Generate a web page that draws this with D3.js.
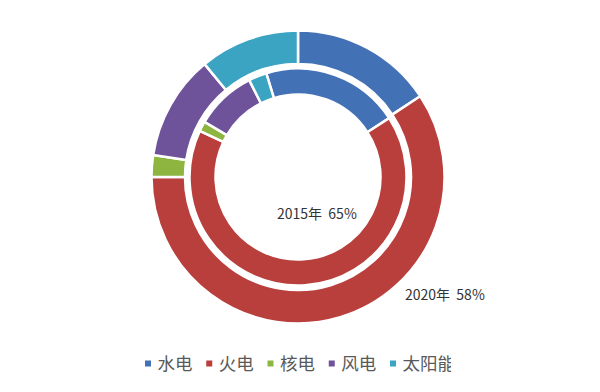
<!DOCTYPE html>
<html>
<head>
<meta charset="utf-8">
<script src="https://cdn.jsdelivr.net/npm/d3@7"></script>
<style>
  html, body { margin: 0; padding: 0; background: #fff; }
  svg { display: block; }
  text { font-family: "Noto Sans CJK SC", "Noto Sans", sans-serif; white-space: pre; }
</style>
</head>
<body>
<svg id="chart" width="600" height="392"></svg>
<script>
const categories = ["水电", "火电", "核电", "风电", "太阳能"];
const values2020 = [15.7, 59.3, 2.4, 11.6, 11.0];
const values2015 = [20.6, 66.1, 1.5, 9.1, 2.7];
const colors = ["#4371B6", "#B93F3D", "#8DB53F", "#6E539B", "#3AA4C2"];
const ringLabels = ["2015年  65%", "2020年  58%"];

const svg = d3.select("#chart");
const cx = 298, cy = 177;
const g = svg.append("g").attr("transform", `translate(${cx},${cy})`);

const deg = Math.PI / 180;
const innerStart = -17 * deg;

const pieOuter = d3.pie().sort(null).value(d => d.v).startAngle(0).endAngle(2 * Math.PI);
const pieInner = d3.pie().sort(null).value(d => d.v).startAngle(innerStart).endAngle(innerStart + 2 * Math.PI);

const outerData = categories.map((c, i) => ({ c, v: values2020[i], i }));
const innerData = categories.map((c, i) => ({ c, v: values2015[i], i }));

const arcOuter = d3.arc().innerRadius(113).outerRadius(146.5);
const arcInner = d3.arc().innerRadius(82.5).outerRadius(108.5);

g.selectAll("path.outer").data(pieOuter(outerData)).join("path")
  .attr("class", "outer")
  .attr("d", arcOuter)
  .attr("fill", d => colors[d.data.i])
  .attr("stroke", "#fff").attr("stroke-width", 2.5).attr("stroke-linejoin", "round");

g.selectAll("path.inner").data(pieInner(innerData)).join("path")
  .attr("class", "inner")
  .attr("d", arcInner)
  .attr("fill", d => colors[d.data.i])
  .attr("stroke", "#fff").attr("stroke-width", 2.5).attr("stroke-linejoin", "round");

svg.append("text").attr("x", 277).attr("y", 219)
  .attr("font-size", 14).attr("fill", "#333").text(ringLabels[0]);
svg.append("text").attr("x", 405).attr("y", 300)
  .attr("font-size", 14).attr("fill", "#333").text(ringLabels[1]);

// legend
const clip = svg.append("defs").append("clipPath").attr("id", "legclip");
clip.append("rect").attr("x", 0).attr("y", 340).attr("width", 451).attr("height", 52);

const legend = svg.append("g").attr("clip-path", "url(#legclip)");
const lx = d3.scalePoint().domain(categories).range([145, 390]);
const items = legend.selectAll("g.item").data(categories).join("g")
  .attr("class", "item")
  .attr("transform", d => `translate(${lx(d)},0)`);
items.append("rect").attr("x", 0).attr("y", 360.5).attr("width", 6).attr("height", 6)
  .attr("fill", (d, i) => colors[i]);
items.append("text").attr("x", 12.5).attr("y", 369.5)
  .attr("font-size", 17.5).attr("fill", "#595959").text(d => d);
</script>
</body>
</html>
